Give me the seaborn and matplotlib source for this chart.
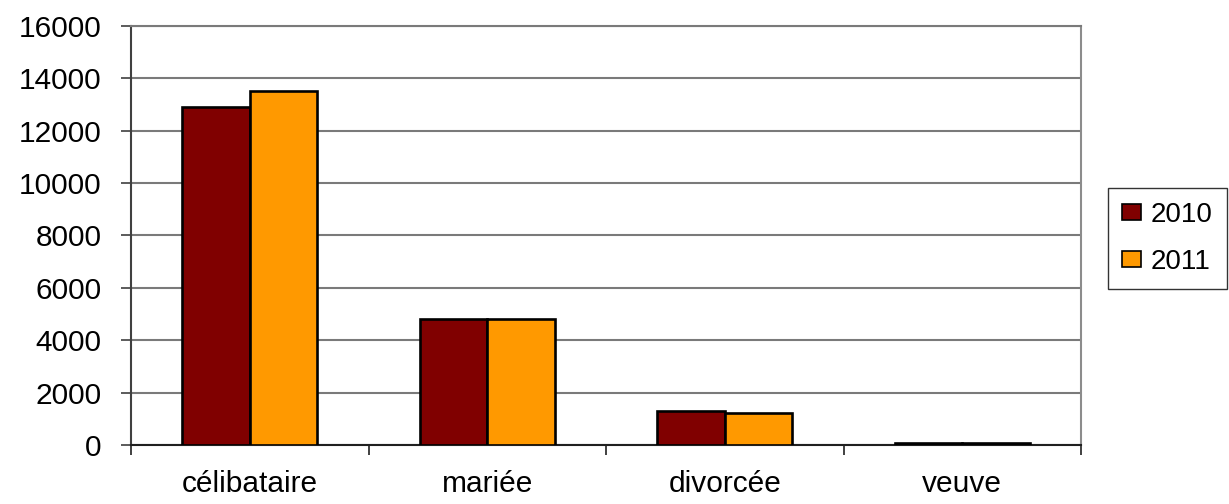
import matplotlib
matplotlib.use("Agg")
import matplotlib.pyplot as plt
import seaborn as sns
import pandas as pd
from matplotlib.ticker import FixedLocator

categories = ["célibataire", "mariée", "divorcée", "veuve"]
values_2010 = [12900, 4800, 1300, 90]
values_2011 = [13500, 4800, 1220, 80]
years = ["2010", "2011"]
colors = ["#800000", "#FF9900"]
yticks = [0, 2000, 4000, 6000, 8000, 10000, 12000, 14000, 16000]

rows = []
for c, a, b in zip(categories, values_2010, values_2011):
    rows.append({"cat": c, "year": years[0], "val": a})
    rows.append({"cat": c, "year": years[1], "val": b})
df = pd.DataFrame(rows)

sns.set_theme(style="white")
plt.rcParams["font.family"] = ["Liberation Sans", "DejaVu Sans"]
plt.rcParams["text.color"] = "black"

fig = plt.figure(figsize=(12.29, 5.04), dpi=100)
ax = fig.add_axes([131/1229, 1-445/504, (1081-131)/1229, (445-26)/504])

sns.barplot(data=df, x="cat", y="val", hue="year", palette=colors,
            width=0.57, gap=0, edgecolor="black", linewidth=1.9,
            saturation=1, ax=ax, zorder=3)

ax.set_xlim(-0.5, 3.5)
ax.set_ylim(0, 16000)
ax.set_yticks(yticks)
ax.set_yticklabels([str(v) for v in yticks])
ax.yaxis.grid(True, color="#7a7a7a", linewidth=1.5, zorder=0)
ax.set_axisbelow(True)
ax.set_xlabel("")
ax.set_ylabel("")

ax.tick_params(axis="y", which="major", left=True, length=7, width=1.2,
               color="#404040", pad=14, labelsize=21.5, labelcolor="black")
ax.tick_params(axis="x", which="major", bottom=False, length=0, pad=18,
               labelsize=21.5, labelcolor="black")
ax.xaxis.set_minor_locator(FixedLocator([-0.5, 0.5, 1.5, 2.5, 3.5]))
ax.tick_params(axis="x", which="minor", bottom=True, length=7, width=1.2,
               color="#202020")

ax.spines["left"].set_color("#404040")
ax.spines["left"].set_linewidth(1.5)
ax.spines["bottom"].set_color("#202020")
ax.spines["bottom"].set_linewidth(1.5)
ax.spines["right"].set_color("#8c8c8c")
ax.spines["right"].set_linewidth(1.5)
ax.spines["top"].set_color("#7a7a7a")
ax.spines["top"].set_linewidth(1.5)

leg = ax.legend(loc="upper left", bbox_to_anchor=(1108/1229, 1-188/504),
                bbox_transform=fig.transFigure, frameon=True, fancybox=False,
                fontsize=20, handlelength=0.7, handleheight=0.5,
                handletextpad=0.35, borderpad=0.5, labelspacing=0.75,
                borderaxespad=0, title=None, labelcolor="black")
leg.get_frame().set_edgecolor("black")
leg.get_frame().set_linewidth(1.0)
for h in leg.legend_handles:
    h.set_edgecolor("black")
    h.set_linewidth(1.2)

fig.savefig("out.png", dpi=100)
